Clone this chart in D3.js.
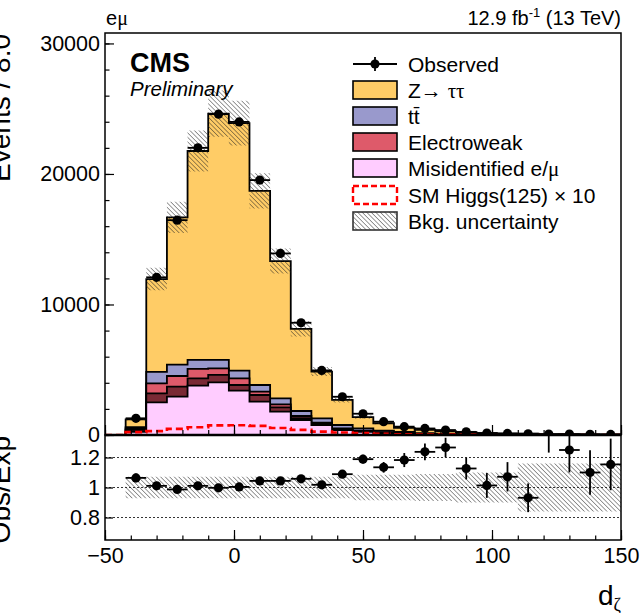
<!DOCTYPE html>
<html>
<head>
<meta charset="utf-8">
<script src="https://cdn.jsdelivr.net/npm/d3@7"></script>
<style>
body { margin: 0; background: #fff; }
svg text { font-family: "Liberation Sans", Arial, Helvetica, sans-serif; fill: #000; }
.greek { font-family: "Liberation Serif", "DejaVu Serif", serif; }
</style>
</head>
<body>
<svg id="canvas" width="640" height="613"></svg>
<script>
// bin centres of d_zeta, 8 units wide
const binCenters = [-46, -38, -30, -22, -14, -6, 2, 10, 18, 26, 34, 42, 50, 58, 66, 74, 82, 90, 98, 106, 114, 122, 130, 138, 146];
const observed  = [0, 1280, 12080, 16460, 22000, 24580, 23990, 19530, 13910, 8600, 4950, 2930, 1630, 1020, 640, 500, 380, 240, 150, 120, 95, 70, 70, 55, 45];
// backgrounds, bottom of the stack first
const misid    = [0, 250, 2500, 2935, 3780, 4035, 3400, 2550, 1785, 1150, 765, 380, 250, 150, 90, 60, 40, 25, 15, 10, 8, 6, 5, 4, 3];
const otherBkg = [0, 150, 695, 765, 560, 565, 430, 515, 335, 150, 105, 70, 40, 30, 20, 10, 8, 5, 3, 2, 2, 2, 1, 1, 1];
const ewk      = [0, 100, 765, 820, 720, 510, 510, 255, 230, 155, 80, 60, 40, 30, 20, 15, 10, 6, 4, 3, 3, 2, 2, 2, 1];
const ttbar    = [0, 100, 870, 870, 690, 640, 590, 510, 460, 385, 330, 255, 180, 130, 100, 65, 42, 34, 23, 17, 12, 10, 8, 6, 5];
const ztt      = [0, 603, 7119, 11287, 16011, 18879, 18964, 14877, 10514, 6289, 3582, 1926, 861, 559, 311, 254, 200, 143, 103, 80, 77, 30, 40, 37, 29];
const higgsX10 = [0, 220, 300, 470, 590, 740, 750, 700, 540, 390, 260, 190, 140, 90, 60, 40, 25, 15, 10, 6, 4, 3, 2, 1, 1];
// relative background uncertainty
const bkgUnc   = [0, 0.072, 0.072, 0.072, 0.072, 0.072, 0.072, 0.072, 0.072, 0.072, 0.072, 0.072, 0.085, 0.085, 0.085, 0.09, 0.09, 0.1, 0.1, 0.1, 0.16, 0.16, 0.16, 0.16, 0.16];

const yMainTicks = [0, 10000, 20000, 30000];
const ratioTicks = [0.8, 1, 1.2];
const xTicks = [-50, 0, 50, 100, 150];

const layers = [
    {vals: misid, color: '#ffccff'},
    {vals: otherBkg, color: '#7a2a35'},
    {vals: ewk, color: '#de5a6a'},
    {vals: ttbar, color: '#9999cc'},
    {vals: ztt, color: '#ffcc66'}
];

const halfBin = 4;
const svg = d3.select('#canvas');

const x = d3.scaleLinear().domain([-50, 150]).range([105, 621]);
const yMain = d3.scaleLinear().domain([0, 30800]).range([435, 33]);
const yRatio = d3.scaleLinear().domain([0.65, 1.35]).range([540, 435]);

// hatch pattern for the uncertainty band
const defs = svg.append('defs');
defs.append('pattern')
    .attr('id', 'hatch')
    .attr('patternUnits', 'userSpaceOnUse')
    .attr('width', 3.2).attr('height', 3.2)
    .attr('patternTransform', 'rotate(-45)')
    .append('line')
    .attr('x1', 0).attr('y1', 0).attr('x2', 0).attr('y2', 3.2)
    .attr('stroke', '#222').attr('stroke-width', 0.9);
defs.append('clipPath').attr('id', 'clipMain')
    .append('rect').attr('x', 105).attr('y', 33).attr('width', 516).attr('height', 402);
defs.append('clipPath').attr('id', 'clipRatio')
    .append('rect').attr('x', 105).attr('y', 435).attr('width', 516).attr('height', 105);

// cumulative stack
let cumul = binCenters.map(() => 0);
const stacked = layers.map(l => {
    cumul = cumul.map((c, i) => c + l.vals[i]);
    return {vals: cumul.slice(), color: l.color};
});
const total = stacked[stacked.length - 1].vals;

const stepPts = vals => binCenters.flatMap((c, i) => [[c - halfBin, vals[i]], [c + halfBin, vals[i]]]);

const mainG = svg.append('g').attr('clip-path', 'url(#clipMain)');

const stackArea = d3.area().x(d => x(d[0])).y0(yMain(0)).y1(d => yMain(d[1]));
stacked.slice().reverse().forEach(s => {
    mainG.append('path')
        .attr('d', stackArea(stepPts(s.vals)))
        .attr('fill', s.color)
        .attr('stroke', '#000')
        .attr('stroke-width', 1.8)
        .attr('stroke-linejoin', 'miter');
});

// uncertainty band on the stack
const bandPts = (lo, hi) => binCenters.flatMap((c, i) => total[i] > 0 ?
    [[c - halfBin, lo(i), hi(i)], [c + halfBin, lo(i), hi(i)]] : []);
mainG.append('path')
    .attr('d', d3.area().x(d => x(d[0])).y0(d => yMain(d[1])).y1(d => yMain(d[2]))(
        bandPts(i => total[i] * (1 - bkgUnc[i]), i => total[i] * (1 + bkgUnc[i]))))
    .attr('fill', 'url(#hatch)');

// SM Higgs x 10
mainG.append('path')
    .attr('d', d3.line().x(d => x(d[0])).y(d => yMain(d[1]))(stepPts(higgsX10)))
    .attr('fill', 'none')
    .attr('stroke', '#ff0000')
    .attr('stroke-width', 2.6)
    .attr('stroke-dasharray', '7,4');

// observed points
const obsIdx = binCenters.map((c, i) => i).filter(i => observed[i] > 0);
const obsG = mainG.append('g');
obsIdx.forEach(i => {
    const c = binCenters[i], n = observed[i], e = Math.sqrt(n);
    obsG.append('line').attr('x1', x(c - halfBin)).attr('x2', x(c + halfBin))
        .attr('y1', yMain(n)).attr('y2', yMain(n)).attr('stroke', '#000').attr('stroke-width', 1.8);
    obsG.append('line').attr('x1', x(c)).attr('x2', x(c))
        .attr('y1', yMain(n - e)).attr('y2', yMain(n + e)).attr('stroke', '#000').attr('stroke-width', 1.8);
    obsG.append('circle').attr('cx', x(c)).attr('cy', yMain(n)).attr('r', 4.6).attr('fill', '#000');
});

// ratio panel
const ratioG = svg.append('g').attr('clip-path', 'url(#clipRatio)');
ratioTicks.forEach(t => {
    ratioG.append('line').attr('x1', 105).attr('x2', 621)
        .attr('y1', yRatio(t)).attr('y2', yRatio(t))
        .attr('stroke', '#000').attr('stroke-width', 0.8).attr('stroke-dasharray', '2,2');
});
ratioG.append('path')
    .attr('d', d3.area().x(d => x(d[0])).y0(d => yRatio(d[1])).y1(d => yRatio(d[2]))(
        bandPts(i => 1 - bkgUnc[i], i => 1 + bkgUnc[i])))
    .attr('fill', 'url(#hatch)');
obsIdx.forEach(i => {
    const c = binCenters[i], r = observed[i] / total[i], e = Math.sqrt(observed[i]) / total[i];
    ratioG.append('line').attr('x1', x(c - halfBin)).attr('x2', x(c + halfBin))
        .attr('y1', yRatio(r)).attr('y2', yRatio(r)).attr('stroke', '#000').attr('stroke-width', 1.8);
    ratioG.append('line').attr('x1', x(c)).attr('x2', x(c))
        .attr('y1', yRatio(r - e)).attr('y2', yRatio(r + e)).attr('stroke', '#000').attr('stroke-width', 1.8);
    ratioG.append('circle').attr('cx', x(c)).attr('cy', yRatio(r)).attr('r', 4.6).attr('fill', '#000');
});

// axes
const noDomain = g => g.select('.domain').remove();
const fontAxis = g => g.selectAll('text').attr('font-size', 21.5).attr('fill', '#000')
    .attr('font-family', '"Liberation Sans", Arial, sans-serif');

svg.append('g').attr('transform', 'translate(105,0)')
    .call(d3.axisLeft(yMain).tickValues(d3.range(0, 30001, 2000)).tickSize(-4.5).tickFormat(''))
    .call(noDomain);
svg.append('g').attr('transform', 'translate(105,0)')
    .call(d3.axisLeft(yMain).tickValues(yMainTicks).tickSize(-9).tickPadding(5).tickFormat(d3.format('d')))
    .call(noDomain).call(fontAxis);

svg.append('g').attr('transform', 'translate(0,435)')
    .call(d3.axisBottom(x).ticks(20).tickSize(-5).tickFormat(''))
    .call(noDomain);
svg.append('g').attr('transform', 'translate(0,435)')
    .call(d3.axisBottom(x).tickValues(xTicks).tickSize(-10).tickFormat(''))
    .call(noDomain);

svg.append('g').attr('transform', 'translate(105,0)')
    .call(d3.axisLeft(yRatio).tickValues(ratioTicks).tickSize(-8).tickPadding(5).tickFormat(d => String(d)))
    .call(noDomain).call(fontAxis);
svg.append('g').attr('transform', 'translate(0,540)')
    .call(d3.axisBottom(x).ticks(20).tickSize(-4.5).tickFormat(''))
    .call(noDomain);
svg.append('g').attr('transform', 'translate(0,540)')
    .call(d3.axisBottom(x).tickValues(xTicks).tickSize(-10).tickPadding(8))
    .call(noDomain).call(fontAxis);

svg.selectAll('.tick line').attr('stroke', '#000').attr('stroke-width', 1.2);

// frames
svg.append('rect').attr('x', 105).attr('y', 33).attr('width', 516).attr('height', 402)
    .attr('fill', 'none').attr('stroke', '#000').attr('stroke-width', 1.5);
svg.append('rect').attr('x', 105).attr('y', 435).attr('width', 516).attr('height', 105)
    .attr('fill', 'none').attr('stroke', '#000').attr('stroke-width', 1.5);
svg.append('line').attr('x1', 105).attr('x2', 621).attr('y1', 435).attr('y2', 435)
    .attr('stroke', '#000').attr('stroke-width', 2.6);

// axis titles (partly outside the canvas, as in the original)
svg.append('text').attr('transform', 'translate(10,34) rotate(-90)')
    .attr('text-anchor', 'end').attr('font-size', 28).text('Events / 8.0');
svg.append('text').attr('transform', 'translate(10,436) rotate(-90)')
    .attr('text-anchor', 'end').attr('font-size', 28).text('Obs/Exp');
const xt = svg.append('text').attr('x', 621).attr('y', 605).attr('text-anchor', 'end').attr('font-size', 28);
xt.append('tspan').text('d');
xt.append('tspan').attr('class', 'greek').attr('font-size', 18).attr('dy', 6).text('ζ');

// header
const ch = svg.append('text').attr('x', 106).attr('y', 25).attr('font-size', 20);
ch.append('tspan').text('e');
ch.append('tspan').attr('class', 'greek').text('μ');
const lumi = svg.append('text').attr('x', 621).attr('y', 25).attr('text-anchor', 'end').attr('font-size', 20);
lumi.append('tspan').text('12.9 fb');
lumi.append('tspan').attr('font-size', 13).attr('dy', -8).text('-1');
lumi.append('tspan').attr('dy', 8).text(' (13 TeV)');

svg.append('text').attr('x', 130).attr('y', 72).attr('font-size', 27).attr('font-weight', 'bold').text('CMS');
svg.append('text').attr('x', 130).attr('y', 96).attr('font-size', 20.5).attr('font-style', 'italic').text('Preliminary');

// legend
const legX = 353, legW = 44, legH = 18, legTextX = 408;
const legY = [64, 90, 116, 142, 168, 195, 221];
const leg = svg.append('g');

leg.append('line').attr('x1', legX).attr('x2', legX + legW).attr('y1', legY[0]).attr('y2', legY[0])
    .attr('stroke', '#000').attr('stroke-width', 1.8);
leg.append('line').attr('x1', legX + legW / 2).attr('x2', legX + legW / 2).attr('y1', legY[0] - 7).attr('y2', legY[0] + 7)
    .attr('stroke', '#000').attr('stroke-width', 1.8);
leg.append('circle').attr('cx', legX + legW / 2).attr('cy', legY[0]).attr('r', 4.6).attr('fill', '#000');

const boxes = [
    {y: legY[1], fill: '#ffcc66', stroke: '#000', dash: null},
    {y: legY[2], fill: '#9999cc', stroke: '#000', dash: null},
    {y: legY[3], fill: '#de5a6a', stroke: '#000', dash: null},
    {y: legY[4], fill: '#ffccff', stroke: '#000', dash: null},
    {y: legY[5], fill: '#fff', stroke: '#ff0000', dash: '6,3'},
    {y: legY[6], fill: 'url(#hatch)', stroke: '#333', dash: null}
];
boxes.forEach(b => {
    leg.append('rect').attr('x', legX).attr('y', b.y - legH / 2).attr('width', legW).attr('height', legH)
        .attr('fill', b.fill).attr('stroke', b.stroke)
        .attr('stroke-width', b.dash ? 2.4 : 1.6)
        .attr('stroke-dasharray', b.dash);
});

const legText = (i) => leg.append('text').attr('x', legTextX).attr('y', legY[i] + 7.5).attr('font-size', 21);
legText(0).text('Observed');
const lz = legText(1);
lz.append('tspan').text('Z\u2192 ');
lz.append('tspan').attr('class', 'greek').text('\u03c4\u03c4');
legText(2).text('tt\u0304');
legText(3).text('Electroweak');
const lm = legText(4);
lm.append('tspan').text('Misidentified e/');
lm.append('tspan').attr('class', 'greek').text('μ');
legText(5).text('SM Higgs(125) \u00d7 10');
legText(6).text('Bkg. uncertainty');
</script>
</body>
</html>
